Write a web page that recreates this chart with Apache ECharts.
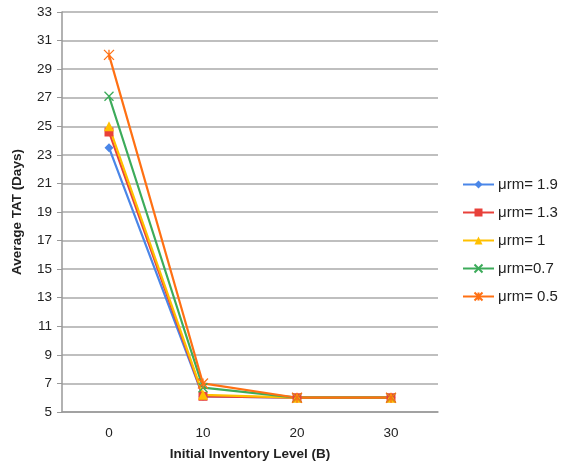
<!DOCTYPE html>
<html><head><meta charset="utf-8">
<script src="https://cdn.jsdelivr.net/npm/echarts@6/dist/echarts.min.js"></script>
<style>html,body{margin:0;padding:0;background:#fff}#c{width:565px;height:470px}</style>
</head><body><div id="c"></div>
<script>
var categories = ['0', '10', '20', '30'];
var s19 = [23.5, 6.1, 6.0, 6.0];
var s13 = [24.6, 6.1, 6.0, 6.0];
var s10 = [25.0, 6.2, 6.0, 6.0];
var s07 = [27.1, 6.7, 6.0, 6.0];
var s05 = [30.0, 7.0, 6.0, 6.0];
var names = ['\u03bcrm= 1.9', '\u03bcrm= 1.3', '\u03bcrm= 1', '\u03bcrm=0.7', '\u03bcrm= 0.5'];

var X = 'path://M0,0L10,10M10,0L0,10';
var STAR = 'path://M0,0L10,10M10,0L0,10M5,0L5,10';
function mk(name, data, color, symbol, size, stroke) {
  return {
    name: name, type: 'line', data: data, symbol: symbol, symbolSize: size,
    showAllSymbol: true,
    lineStyle: { color: color, width: 2.2 },
    itemStyle: stroke ? { color: 'transparent', borderColor: color, borderWidth: 1.3 } : { color: color },
    emphasis: { disabled: true }, z: 2
  };
}
var chart = echarts.init(document.getElementById('c'));
chart.setOption({
  animation: false,
  textStyle: { fontFamily: 'Liberation Sans, Arial, sans-serif' },
  grid: { left: 62, right: 127, top: 12, bottom: 58 },
  legend: {
    orient: 'vertical', left: 457, top: 172, itemGap: 13, itemWidth: 31, itemHeight: 10,
    textStyle: { fontSize: 15, color: '#222', fontFamily: 'Liberation Sans, Arial, sans-serif', padding: [0, 0, 0, -1] },
    data: names
  },
  xAxis: {
    type: 'category', data: categories, boundaryGap: true,
    name: 'Initial Inventory Level (B)', nameLocation: 'middle', nameGap: 35,
    nameTextStyle: { fontSize: 13.5, fontWeight: 'bold', color: '#222' },
    axisLine: { lineStyle: { color: '#999', width: 1.5 } },
    axisTick: { show: false },
    axisLabel: { fontSize: 13.5, color: '#222', margin: 14 }
  },
  yAxis: {
    type: 'value', min: 5, max: 33, interval: 2,
    name: 'Average TAT (Days)', nameLocation: 'middle', nameGap: 38,
    nameTextStyle: { fontSize: 13.5, fontWeight: 'bold', color: '#222' },
    axisLine: { show: true, lineStyle: { color: '#999', width: 1.5 } },
    axisTick: { show: true, length: 5, lineStyle: { color: '#999' } },
    axisLabel: { fontSize: 13.5, color: '#222', margin: 10 },
    splitLine: { lineStyle: { color: '#aaa', width: 1.5 } }
  },
  series: [
    mk(names[0], s19, '#4a86e8', 'diamond', 9, false),
    mk(names[1], s13, '#e8413a', 'rect', 9, false),
    mk(names[2], s10, '#ffc000', 'triangle', 10, false),
    mk(names[3], s07, '#3cab5a', X, 9, true),
    mk(names[4], s05, '#ff7013', STAR, 10, true)
  ]
});
</script></body></html>
